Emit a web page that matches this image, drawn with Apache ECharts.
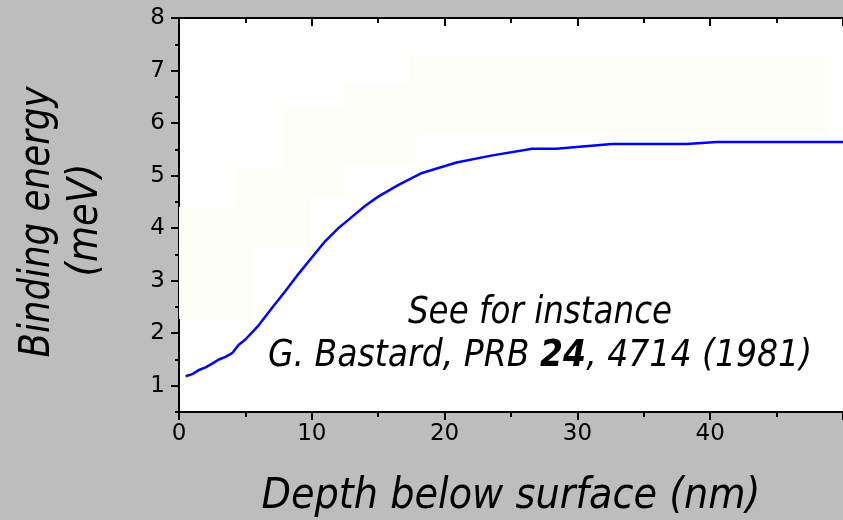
<!DOCTYPE html>
<html>
<head>
<meta charset="utf-8">
<script src="https://cdn.jsdelivr.net/npm/echarts@6/dist/echarts.min.js"></script>
<style>
  html, body { margin: 0; padding: 0; background: #bdbdbd; }
  #chart { width: 843px; height: 520px; }
</style>
</head>
<body>
<div id="chart"></div>
<script>
// depth below surface (nm) and binding energy (meV)
const depth = [0.5, 1.0, 1.5, 2.0, 2.5, 3.0, 3.5, 4.0, 4.5, 5.0, 6.0, 7.0, 8.0, 9.0, 10.0,
  11.0, 12.0, 13.0, 14.0, 15.0, 16.5, 18.3, 20.9, 23.5, 26.6, 28.4, 32.6, 38.2, 40.5, 50.0];
const energy = [1.18, 1.22, 1.30, 1.35, 1.42, 1.50, 1.55, 1.62, 1.78, 1.88, 2.15, 2.48, 2.80, 3.13, 3.44,
  3.75, 4.00, 4.21, 4.42, 4.60, 4.82, 5.05, 5.25, 5.38, 5.51, 5.51, 5.60, 5.60, 5.64, 5.64];

// faint shaded steps behind the curve: [x0, y0, x1, y1]
const shadeBlocks = [
  [0, 2.27, 5.6, 4.4],
  [4.3, 3.6, 9.9, 5.17],
  [7.7, 4.6, 12.5, 6.31],
  [12.5, 5.2, 17.4, 6.77],
  [16.4, 5.25, 17.9, 5.8],
  [17.4, 5.78, 48.9, 7.3]
];

const yTicks = [1, 2, 3, 4, 5, 6, 7, 8];
const yMinorTicks = [0.5, 1.5, 2.5, 3.5, 4.5, 5.5, 6.5, 7.5];

const FONT = 'DejaVu Sans';
const chart = echarts.init(document.getElementById('chart'));

const axisLine = { lineStyle: { color: '#000', width: 2 } };

const option = {
  backgroundColor: '#bdbdbd',
  animation: false,
  grid: {
    left: 179, top: 18, right: -8, bottom: 108,
    show: true, backgroundColor: '#ffffff', borderWidth: 0
  },
  xAxis: [
    {
      type: 'value', position: 'bottom', min: 0, max: 50, interval: 10,
      axisLine,
      axisTick: { length: 8, lineStyle: { color: '#000', width: 2 } },
      minorTick: { show: true, splitNumber: 2, length: 5, lineStyle: { color: '#000', width: 2 } },
      axisLabel: {
        color: '#000', fontFamily: FONT, fontSize: 23, margin: 11,
        showMaxLabel: false
      },
      splitLine: { show: false }
    },
    {
      type: 'value', position: 'top', min: 0, max: 50, interval: 10,
      axisLine,
      axisTick: { inside: true, length: 8, lineStyle: { color: '#000', width: 2 } },
      minorTick: { show: true, splitNumber: 2, length: 5, lineStyle: { color: '#000', width: 2 } },
      axisLabel: { show: false },
      splitLine: { show: false }
    }
  ],
  yAxis: [
    {
      type: 'value', position: 'left', min: 0.5, max: 8,
      axisLine,
      axisTick: { customValues: yTicks, length: 8, lineStyle: { color: '#000', width: 2 } },
      axisLabel: {
        customValues: yTicks, color: '#000', fontFamily: FONT, fontSize: 23, margin: 14
      },
      splitLine: { show: false }
    },
    {
      type: 'value', position: 'left', min: 0.5, max: 8,
      axisLine: { show: false },
      axisTick: { customValues: yMinorTicks, length: 4, lineStyle: { color: '#000', width: 2 } },
      axisLabel: { show: false },
      splitLine: { show: false }
    }
  ],
  series: [
    {
      type: 'line', data: [], z: 1, silent: true,
      markArea: {
        silent: true,
        itemStyle: { color: '#fefef8', opacity: 1 },
        data: shadeBlocks.map(b => [{ coord: [b[0], b[1]] }, { coord: [b[2], b[3]] }])
      }
    },
    {
      type: 'line', z: 3,
      data: depth.map((d, i) => [d, energy[i]]),
      showSymbol: false, symbol: 'none',
      lineStyle: { color: '#0000ff', width: 2.5 }
    }
  ],
  graphic: [
    {
      type: 'text', x: 38, y: 222, rotation: Math.PI / 2, scaleX: 0.83,
      style: {
        text: 'Binding energy', fontFamily: FONT, fontStyle: 'italic', fontSize: 43,
        fill: '#000', align: 'center', verticalAlign: 'middle'
      }
    },
    {
      type: 'text', x: 86, y: 220, rotation: Math.PI / 2, scaleX: 0.86,
      style: {
        text: '(meV)', fontFamily: FONT, fontStyle: 'italic', fontSize: 43,
        fill: '#000', align: 'center', verticalAlign: 'middle'
      }
    },
    {
      type: 'text', x: 511, y: 497, scaleX: 0.89,
      style: {
        text: 'Depth below surface (nm)', fontFamily: FONT, fontStyle: 'italic', fontSize: 43,
        fill: '#000', align: 'center', verticalAlign: 'middle'
      }
    },
    {
      type: 'text', x: 540, y: 313, scaleX: 0.88,
      style: {
        text: 'See for instance', fontFamily: FONT, fontStyle: 'italic', fontSize: 37,
        fill: '#000', align: 'center', verticalAlign: 'middle'
      }
    },
    {
      type: 'text', x: 540, y: 356, scaleX: 0.895,
      style: {
        text: '{n|G. Bastard, PRB }{b|24}{n|, 4714 (1981)}',
        align: 'center', verticalAlign: 'middle',
        rich: {
          n: { fontFamily: FONT, fontStyle: 'italic', fontSize: 37, fill: '#000' },
          b: { fontFamily: FONT, fontStyle: 'italic', fontWeight: 'bold', fontSize: 37, fill: '#000' }
        }
      }
    }
  ]
};

chart.setOption(option);
</script>
</body>
</html>
